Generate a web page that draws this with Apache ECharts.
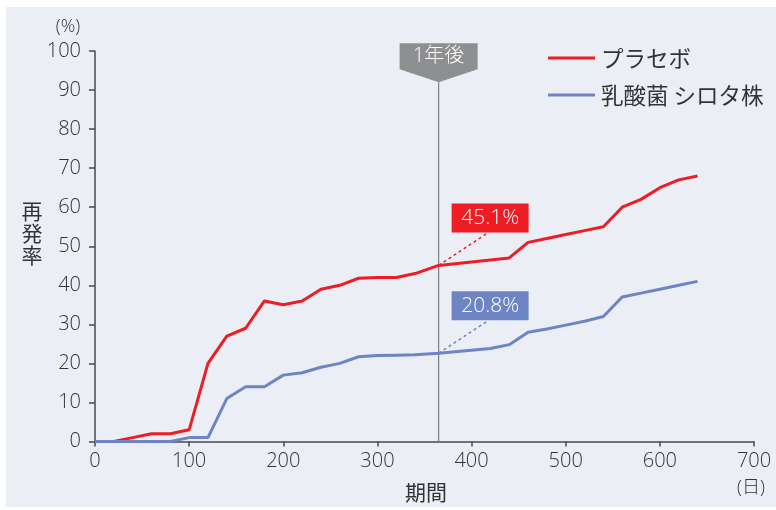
<!DOCTYPE html>
<html><head><meta charset="utf-8">
<script src="https://cdn.jsdelivr.net/npm/echarts@6/dist/echarts.min.js"></script>
<style>html,body{margin:0;padding:0;background:#fff}#c{width:776px;height:510px}</style>
</head><body><div id="c"></div>
<script>
// ---- data ----
const days     = [0,20,40,60,80,100,120,140,160,180,200,220,240,260,280,300,320,340,365,420,440,460,480,500,520,540,560,580,600,620,640];
const placebo  = [0,0,1,2,2,3,20,27,29,36,35,36,39,40,41.8,42,42,43,45.1,46.5,47,51,52,53,54,55,60,62,65,67,68];
const shirota  = [0,0,0,0,0,1,1,11,14,14,17,17.6,19,20,21.7,22,22.1,22.2,22.6,23.8,24.8,28,28.8,29.8,30.8,32,37,38,39,40,41];
const seriesNames = ['プラセボ', '乳酸菌 シロタ株'];
const oneYearDay = 365;
const oneYearText = '1年後';
const markerTopValue = 92;
const placeboLabel = '45.1%';
const shirotaLabel = '20.8%';
const yUnit = '(%)', xUnit = '(日)', xName = '期間', yName = '再発率';

const FONT = "'Open Sans','Noto Sans CJK JP',sans-serif";
const JFONT = "'Noto Sans CJK JP',sans-serif";
const RED = '#ee1d25', BLUE = '#6e84c3', AX = '#4a4a4a', TXT = '#333333';

const chart = echarts.init(document.getElementById('c'));
const axisCommon = {
  type: 'value',
  axisLine: {show: true, lineStyle: {color: AX, width: 1.5}},
  splitLine: {show: false},
};
const option = {
  animation: false,
  backgroundColor: '#ffffff',
  textStyle: {fontFamily: FONT},
  grid: {left: 95, right: 22, top: 51, bottom: 68.5},
  legend: {
    data: seriesNames, orient: 'vertical', left: 543, top: 41,
    icon: 'rect', itemWidth: 47, itemHeight: 3, itemGap: 13,
    textStyle: {fontSize: 22.5, lineHeight: 24, color: TXT, fontFamily: JFONT, fontWeight: 400, padding: [0,0,0,1]}
  },
  xAxis: Object.assign({}, axisCommon, {
    min: 0, max: 700, interval: 100,
    axisTick: {show: true, length: 5, lineStyle: {color: AX, width: 1.5}},
    axisLabel: {fontSize: 20, color: TXT, margin: 10, fontFamily: FONT, fontWeight: 300}
  }),
  yAxis: Object.assign({}, axisCommon, {
    min: 0, max: 100, interval: 10,
    axisTick: {show: true, length: 6, lineStyle: {color: AX, width: 1.5}},
    axisLabel: {fontSize: 20, color: TXT, margin: 14, fontFamily: FONT, fontWeight: 300}
  }),
  series: [
    {name: seriesNames[0], type: 'line', showSymbol: false, color: RED,
     lineStyle: {width: 3, color: RED}, data: days.map((d,i)=>[d, placebo[i]]), z: 3},
    {name: seriesNames[1], type: 'line', showSymbol: false, color: BLUE,
     lineStyle: {width: 3, color: BLUE}, data: days.map((d,i)=>[d, shirota[i]]), z: 3}
  ]
};
chart.setOption(option);

const idx = days.indexOf(oneYearDay);
const base = chart.convertToPixel({gridIndex: 0}, [oneYearDay, 0]);
const tip = chart.convertToPixel({gridIndex: 0}, [oneYearDay, markerTopValue]);
const pR = chart.convertToPixel({gridIndex: 0}, [oneYearDay, placebo[idx]]);
const pB = chart.convertToPixel({gridIndex: 0}, [oneYearDay, shirota[idx]]);
const px = tip[0], ty = tip[1];

function callout(p, color, text) {
  return [
    {type: 'line', shape: {x1: p[0], y1: p[1], x2: p[0] + 50, y2: p[1] - 33},
     style: {stroke: color, lineWidth: 1.5, lineDash: [3, 3]}, z: 5},
    {type: 'rect', shape: {x: p[0] + 13, y: p[1] - 62, width: 77, height: 29},
     style: {fill: color}, z: 6},
    {type: 'text', x: p[0] + 51.5, y: p[1] - 47.5, z: 7,
     style: {text: text, fill: '#fff', font: '300 21px ' + FONT, align: 'center', verticalAlign: 'middle'}}
  ];
}

chart.setOption({
  graphic: [
    {type: 'rect', shape: {x: 6, y: 7, width: 770, height: 500}, style: {fill: '#eceef5'}, z: -10, silent: true},
    {type: 'line', shape: {x1: px, y1: base[1], x2: px, y2: ty},
     style: {stroke: '#7f7f7f', lineWidth: 1.2}, z: 1},
    {type: 'polygon', shape: {points: [[px-39, ty-39],[px+39, ty-39],[px+39, ty-13],[px, ty],[px-39, ty-13]]},
     style: {fill: '#8e8f91'}, z: 5},
    {type: 'text', x: px, y: ty - 26, z: 6,
     style: {text: oneYearText, fill: '#fff', font: '300 20px ' + FONT, align: 'center', verticalAlign: 'middle'}},
    ...callout(pR, RED, placeboLabel),
    ...callout(pB, BLUE, shirotaLabel),
    {type: 'text', x: 68, y: 27, style: {text: yUnit, fill: TXT, font: '300 18px ' + FONT, align: 'center', verticalAlign: 'middle'}},
    {type: 'text', x: 751, y: 488, style: {text: xUnit, fill: TXT, font: '300 18px ' + FONT, align: 'center', verticalAlign: 'middle'}},
    {type: 'text', x: 426, y: 492, style: {text: xName, fill: TXT, font: '400 21px ' + JFONT, align: 'center', verticalAlign: 'middle'}},
    {type: 'text', x: 32, y: 233, style: {text: yName.split('').join('\n'), fill: TXT, font: '400 21px ' + JFONT, align: 'center', verticalAlign: 'middle', lineHeight: 22}}
  ]
});
</script></body></html>
